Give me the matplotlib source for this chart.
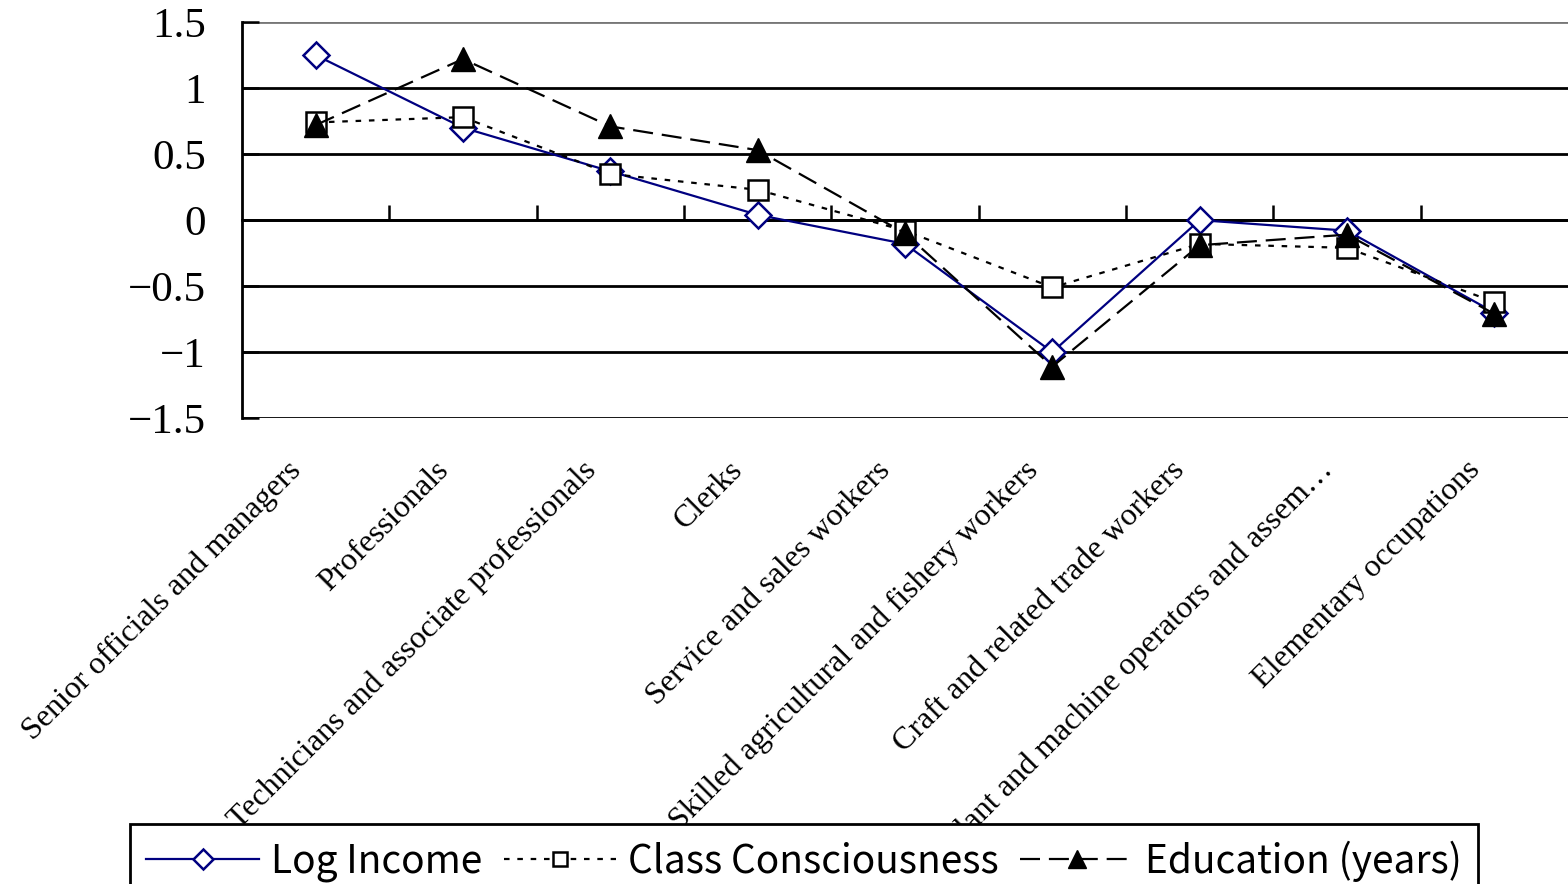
import numpy as np
import matplotlib.pyplot as plt

occupations = ["Senior officials and managers", "Professionals",
               "Technicians and associate professionals", "Clerks",
               "Service and sales workers",
               "Skilled agricultural and fishery workers",
               "Craft and related trade workers",
               "Plant and machine operators and assem…",
               "Elementary occupations"]
log_income = [1.25, 0.70, 0.37, 0.04, -0.18, -1.00, 0.00, -0.08, -0.70]
class_consc = [0.74, 0.78, 0.35, 0.23, -0.08, -0.51, -0.18, -0.21, -0.62]
education = [0.72, 1.22, 0.71, 0.53, -0.10, -1.11, -0.19, -0.11, -0.71]
yticks = [-1.5, -1, -0.5, 0, 0.5, 1, 1.5]
series_names = ["Log Income", "Class Consciousness", "Education (years)"]

serif = ["Liberation Serif", "DejaVu Serif"]
gothic = ["Noto Sans CJK JP", "DejaVu Sans"]

fig = plt.figure(figsize=(15.68, 8.84), dpi=100)
ax = fig.add_axes([0.1543, 0.527, 0.8457, 0.448])

x = np.arange(len(occupations))
navy = "#000080"

l1, = ax.plot(x, log_income, color=navy, lw=1.6, marker="D", ms=13,
              mfc="white", mec=navy, mew=1.8, zorder=3)
l2, = ax.plot(x, class_consc, color="black", lw=1.6, ls=(0, (2.5, 3.5)),
              marker="s", ms=14, mfc="white", mec="black", mew=1.8, zorder=4)
l3, = ax.plot(x, education, color="black", lw=1.6, ls=(0, (9, 4)),
              marker="^", ms=17, mfc="black", mec="black", zorder=5)

ax.set_xlim(-0.5, len(occupations) - 0.5)
ax.set_ylim(-1.5, 1.5)
ax.set_yticks(yticks)
ax.set_yticklabels([f"{v:g}".replace("-", "\u2212") for v in yticks],
                   fontfamily=serif, fontsize=31)
ax.tick_params(axis="y", direction="in", length=12, width=1.8, pad=26)
for v in yticks:
    ax.axhline(v, color="black" if v < 1.5 else "#777777", lw=2, zorder=1)

# x axis drawn through zero with category boundary ticks pointing up
ax.spines["bottom"].set_position(("data", 0))
ax.spines["bottom"].set_linewidth(2)
ax.spines["left"].set_linewidth(2)
ax.spines["top"].set_visible(False)
ax.spines["right"].set_visible(False)
ax.set_xticks(x)
ax.set_xticks(np.arange(0.5, len(occupations) - 1, 1), minor=True)
ax.tick_params(axis="x", which="major", length=0, labelbottom=False)
ax.tick_params(axis="x", which="minor", direction="in", length=11, width=1.8)

for i, name in enumerate(occupations):
    ax.annotate(name, xy=(i, 0), xycoords=("data", "axes fraction"),
                xytext=(-21, -27), textcoords="offset points",
                rotation=45, rotation_mode="anchor", ha="right", va="top",
                fontfamily=serif, fontsize=23, annotation_clip=False)

leg = fig.legend([l1, l2, l3], series_names, loc="upper left",
                 bbox_to_anchor=(0.083, 0.068), borderaxespad=0, ncol=3,
                 frameon=True, fancybox=False, edgecolor="black",
                 framealpha=1, handlelength=2.9, handletextpad=0.3,
                 columnspacing=0.55, borderpad=0.42,
                 prop={"family": gothic, "size": 28}, markerscale=0.75)
leg.get_frame().set_linewidth(2)

fig.savefig("out.png", dpi=100)
